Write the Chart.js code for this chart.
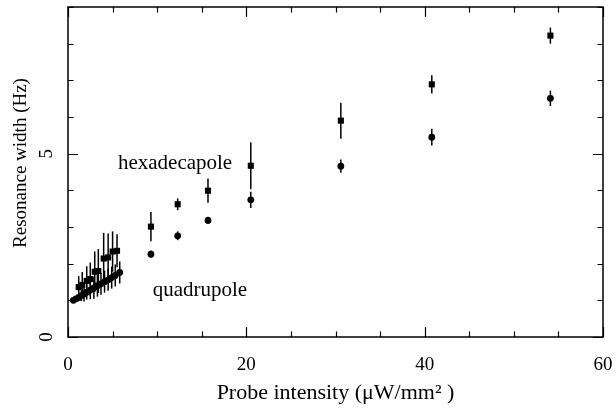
<!DOCTYPE html>
<html><head><meta charset="utf-8">
<script src="https://cdn.jsdelivr.net/npm/chart.js@4"></script>
<style>html,body{margin:0;padding:0;background:#fff}#wrap{width:616px;height:409px}</style>
</head><body><div id="wrap"><canvas id="c" width="616" height="409"></canvas></div>
<script>
// ---- data ----
const hexX   = [1.2, 1.6, 2.1, 2.5, 3.0, 3.4, 4.0, 4.5, 5.0, 5.5, 9.3, 12.3, 15.7, 20.5, 30.6, 40.8, 54.1];
const hexY   = [1.36, 1.42, 1.53, 1.58, 1.78, 1.80, 2.14, 2.17, 2.33, 2.35, 3.01, 3.62, 3.99, 4.67, 5.90, 6.89, 8.22];
const hexErr = [0.30, 0.35, 0.40, 0.45, 0.55, 0.60, 0.70, 0.65, 0.55, 0.45, 0.40, 0.16, 0.33, 0.64, 0.49, 0.25, 0.22];
const quadX   = [0.6, 0.9, 1.2, 1.5, 1.8, 2.1, 2.5, 2.9, 3.3, 3.7, 4.1, 4.5, 4.9, 5.3, 5.8, 9.3, 12.3, 15.7, 20.5, 30.6, 40.8, 54.1];
const quadY   = [1.00, 1.04, 1.08, 1.13, 1.17, 1.22, 1.28, 1.34, 1.40, 1.45, 1.51, 1.56, 1.62, 1.68, 1.76, 2.26, 2.76, 3.18, 3.74, 4.66, 5.45, 6.51];
const quadErr = [0.05, 0.05, 0.10, 0.15, 0.20, 0.20, 0.25, 0.30, 0.30, 0.30, 0.30, 0.30, 0.30, 0.30, 0.30, 0.10, 0.12, 0.10, 0.22, 0.18, 0.23, 0.21];
const xTicks = [0, 20, 40, 60];
const yTicks = [0, 5];
const xMinorStep = 5, yMinorStep = 1;
const xTitle = 'Probe intensity (\u03BCW/mm\u00B2 )';
const yTitle = 'Resonance width (Hz)';
const labels = [
  {text: 'hexadecapole', x: 5.6, y: 4.72},
  {text: 'quadrupole',   x: 9.5, y: 1.28}
];

const FONT = '"Liberation Serif", "Times New Roman", serif';

function toPts(xs, ys){ return xs.map((x,i)=>({x:x, y:ys[i]})); }

const errPlugin = {
  id: 'errbars',
  beforeDatasetsDraw(chart){
    const {ctx, scales:{x, y}} = chart;
    ctx.save();
    ctx.strokeStyle = '#000';
    ctx.lineWidth = 1.5;
    const draw = (xs, ys, es) => {
      xs.forEach((v,i)=>{
        const px = x.getPixelForValue(v);
        ctx.beginPath();
        ctx.moveTo(px, y.getPixelForValue(ys[i]-es[i]));
        ctx.lineTo(px, y.getPixelForValue(ys[i]+es[i]));
        ctx.stroke();
      });
    };
    draw(hexX, hexY, hexErr);
    draw(quadX, quadY, quadErr);
    ctx.restore();
  }
};

const framePlugin = {
  id: 'frame',
  afterDraw(chart){
    const {ctx, chartArea:a, scales:{x, y}} = chart;
    ctx.save();
    ctx.strokeStyle = '#000';
    ctx.lineWidth = 1.5;
    ctx.strokeRect(a.left, a.top, a.right-a.left, a.bottom-a.top);
    ctx.lineWidth = 1.2;
    for (let v = x.min; v <= x.max + 1e-9; v += xMinorStep) {
      const px = Math.round(x.getPixelForValue(v)) + 0.5;
      const L = xTicks.includes(v) ? 10 : 5.5;
      ctx.beginPath();
      ctx.moveTo(px, a.bottom); ctx.lineTo(px, a.bottom - L);
      ctx.moveTo(px, a.top); ctx.lineTo(px, a.top + L);
      ctx.stroke();
    }
    for (let v = y.min; v <= y.max + 1e-9; v += yMinorStep) {
      const py = Math.round(y.getPixelForValue(v)) + 0.5;
      const L = yTicks.includes(v) ? 10 : 5.5;
      ctx.beginPath();
      ctx.moveTo(a.left, py); ctx.lineTo(a.left + L, py);
      ctx.moveTo(a.right, py); ctx.lineTo(a.right - L, py);
      ctx.stroke();
    }
    ctx.fillStyle = '#000';
    ctx.font = '21px ' + FONT;
    ctx.textAlign = 'left';
    ctx.textBaseline = 'middle';
    labels.forEach(l => ctx.fillText(l.text, x.getPixelForValue(l.x), y.getPixelForValue(l.y)));
    ctx.font = '19px ' + FONT;
    ctx.translate(21, 163);
    ctx.rotate(-Math.PI/2);
    ctx.textAlign = 'center';
    ctx.fillText(yTitle, 0, 0);
    ctx.restore();
  }
};

new Chart(document.getElementById('c'), {
  type: 'scatter',
  data: {
    datasets: [
      {label: 'hexadecapole', data: toPts(hexX, hexY), pointStyle: 'rect', pointRadius: 4.3,
       backgroundColor: '#000', borderColor: '#000', borderWidth: 0, showLine: false},
      {label: 'quadrupole', data: toPts(quadX, quadY), pointStyle: 'circle', pointRadius: 3.4,
       backgroundColor: '#000', borderColor: '#000', borderWidth: 0, showLine: false}
    ]
  },
  options: {
    responsive: false,
    animation: false,
    devicePixelRatio: 1,
    layout: {padding: {top: 7, right: 13, left: 0, bottom: 0}},
    plugins: {legend: {display: false}, tooltip: {enabled: false}},
    scales: {
      x: {
        type: 'linear', min: 0, max: 60,
        afterBuildTicks: s => { s.ticks = xTicks.map(v => ({value: v})); },
        afterFit: s => { s.height = 72; s.paddingLeft = 0; s.paddingRight = 0; },
        grid: {display: false, drawTicks: false},
        border: {display: false},
        ticks: {color: '#000', font: {family: FONT, size: 19}, padding: 17, maxRotation: 0},
        title: {display: true, text: xTitle, color: '#000', font: {family: FONT, size: 22}, padding: {top: 0, bottom: 3}}
      },
      y: {
        type: 'linear', min: 0, max: 9,
        afterBuildTicks: s => { s.ticks = yTicks.map(v => ({value: v})); },
        afterFit: s => { s.width = 68; s.paddingTop = 0; s.paddingBottom = 0; },
        grid: {display: false, drawTicks: false},
        border: {display: false},
        ticks: {color: '#000', font: {family: FONT, size: 19}, padding: 16, minRotation: 90, maxRotation: 90, crossAlign: 'center'}
      }
    }
  },
  plugins: [errPlugin, framePlugin]
});
</script>
</body></html>
